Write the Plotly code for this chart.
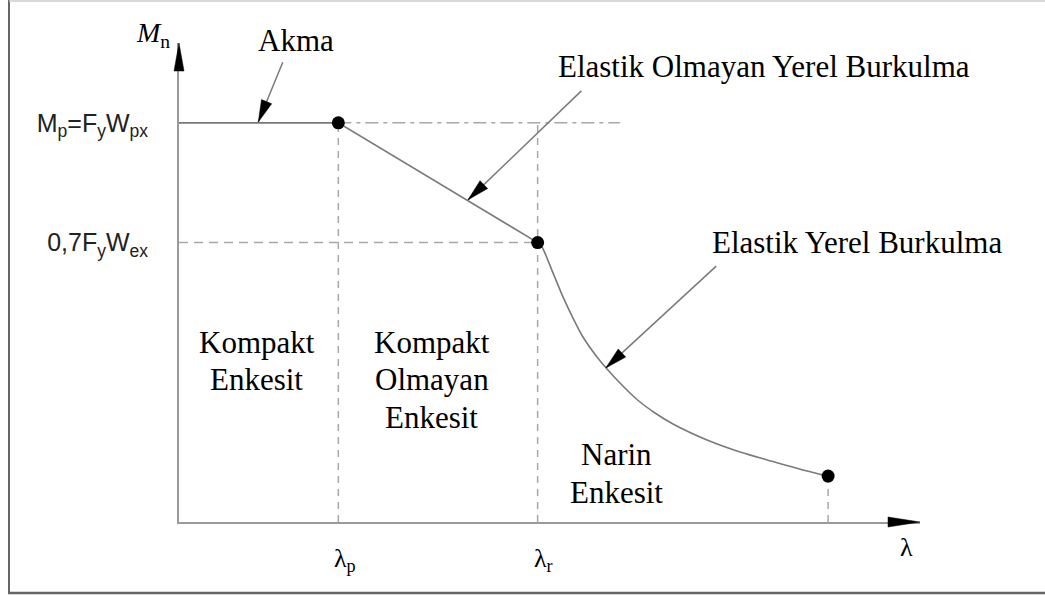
import plotly.graph_objects as go

# ---------------- data (normalised: Mn / Mp, lambda in arbitrary units) ----------------
lam_p = 21.5          # lambda_p
lam_r = 48.4          # lambda_r
lam_end = 87.6        # end of elastic curve
M_p = 1.0             # Mp = Fy Wpx
M_r = 0.70            # 0,7 Fy Wex
M_end = 0.115
dashdot_end = 59.5

plateau_x = [0, lam_p, lam_r]
plateau_y = [M_p, M_p, M_r]

curve_x = [48.4, 48.99, 50.47, 51.82, 53.17, 54.52, 56.41, 57.76, 59.51, 61.81, 64.24, 66.67,
           71.26, 75.71, 80.16, 84.75, 87.6]
curve_y = [0.70, 0.689, 0.624, 0.564, 0.511, 0.4635, 0.4134, 0.3833, 0.3482, 0.3069, 0.2731, 0.2455,
           0.2054, 0.1754, 0.1516, 0.1278, 0.115]

point_x = [lam_p, lam_r, lam_end]
point_y = [M_p, M_r, M_end]

ytick_vals = [M_p, M_r]
ytick_text = ["M<sub>p</sub>=F<sub>y</sub>W<sub>px</sub>", "0,7F<sub>y</sub>W<sub>ex</sub>"]

# callout labels: (text, text_x, text_y, tail_x, tail_y, tip_x, tip_y)
callouts = [
    ("Akma", 15.8, 1.207, 14.0, 1.152, 10.7, 1.002),
    ("Elastik Olmayan Yerel Burkulma", 79.0, 1.140, 54.3, 1.080, 39.0, 0.807),
    ("Elastik Yerel Burkulma", 91.5, 0.701, 72.5, 0.641, 57.6, 0.386),
]
# region labels: (line text, x, y)
region_lines = [
    ("Kompakt", 10.5, 0.449), ("Enkesit", 10.5, 0.356),
    ("Kompakt", 34.1, 0.449), ("Olmayan", 34.1, 0.356), ("Enkesit", 34.1, 0.263),
    ("Narin", 59.1, 0.168), ("Enkesit", 59.1, 0.075),
]

# ---------------- layout geometry ----------------
W, H = 1045, 596
ML, MR, MT, MB = 179, 125, 43, 74
XR = [0, 100]
YR = [0, 1.2]
PW, PH = W - ML - MR, H - MT - MB
kx = PW / (XR[1] - XR[0])   # px per x unit
ky = PH / (YR[1] - YR[0])   # px per y unit

SERIF = "Liberation Serif, Times New Roman, serif"
SANS = "Liberation Sans, Arial, sans-serif"
GRAY = "#7a7a7a"
DASH_GRAY = "#a8a8a8"


def px_(x):  # data x -> paper
    return (x - XR[0]) / (XR[1] - XR[0])


def py_(y):  # data y -> paper
    return (y - YR[0]) / (YR[1] - YR[0])


def head_path(tip, tail, length, half):
    """Filled triangular arrow head, built in pixel space, returned in paper space."""
    tx, ty = tip[0] * kx, tip[1] * ky
    sx, sy = tail[0] * kx, tail[1] * ky
    dx, dy = tx - sx, ty - sy
    n = (dx * dx + dy * dy) ** 0.5
    ux, uy = dx / n, dy / n
    bx, by = tx - ux * length, ty - uy * length
    nx, ny = -uy * half, ux * half
    pts = [(tx, ty), (bx + nx, by + ny), (bx - nx, by - ny)]
    pts = [(px_(a / kx), py_(b / ky)) for a, b in pts]
    return "M {} {} L {} {} L {} {} Z".format(*[v for p in pts for v in p])


fig = go.Figure()

# dashed reference lines
dash_v = dict(color=DASH_GRAY, width=1.5, dash="7px,6px")
fig.add_trace(go.Scatter(x=[lam_p, lam_p], y=[0, M_p], mode="lines", line=dash_v, hoverinfo="skip"))
fig.add_trace(go.Scatter(x=[lam_r, lam_r], y=[0, M_p], mode="lines", line=dash_v, hoverinfo="skip"))
fig.add_trace(go.Scatter(x=[lam_end, lam_end], y=[0, M_end], mode="lines", line=dash_v, hoverinfo="skip"))
fig.add_trace(go.Scatter(x=[0, lam_r], y=[M_r, M_r], mode="lines",
                         line=dict(color=DASH_GRAY, width=1.5, dash="9px,6px"), hoverinfo="skip"))
fig.add_trace(go.Scatter(x=[lam_p, dashdot_end], y=[M_p, M_p], mode="lines",
                         line=dict(color=DASH_GRAY, width=1.5, dash="13px,5px,4px,5px"), hoverinfo="skip"))

# capacity curve
fig.add_trace(go.Scatter(x=plateau_x, y=plateau_y, mode="lines",
                         line=dict(color=GRAY, width=1.6), hoverinfo="skip"))
fig.add_trace(go.Scatter(x=curve_x, y=curve_y, mode="lines",
                         line=dict(color=GRAY, width=1.6, shape="spline", smoothing=0.7), hoverinfo="skip"))
fig.add_trace(go.Scatter(x=point_x, y=point_y, mode="markers",
                         marker=dict(color="black", size=13), cliponaxis=False, hoverinfo="skip"))

shapes = []
annotations = []

# axis arrow heads
shapes.append(dict(type="path", xref="paper", yref="paper", layer="above",
                   path=head_path((XR[1], 0), (0, 0), 32, 5),
                   fillcolor="black", line=dict(color="black", width=0.5)))
shapes.append(dict(type="path", xref="paper", yref="paper", layer="above",
                   path=head_path((0, YR[1]), (0, 0), 28, 5),
                   fillcolor="black", line=dict(color="black", width=0.5)))

# callouts
for text, txx, tyy, ax_, ay_, bx_, by_ in callouts:
    annotations.append(dict(x=px_(txx), y=py_(tyy), xref="paper", yref="paper", text=text, showarrow=False,
                            font=dict(family=SERIF, size=31, color="black"),
                            xanchor="center", yanchor="middle"))
    shapes.append(dict(type="line", xref="paper", yref="paper",
                       x0=px_(ax_), y0=py_(ay_), x1=px_(bx_), y1=py_(by_),
                       line=dict(color=GRAY, width=1.5)))
    shapes.append(dict(type="path", xref="paper", yref="paper", layer="above",
                       path=head_path((bx_, by_), (ax_, ay_), 22, 5.5),
                       fillcolor="black", line=dict(color="black", width=0.5)))

for text, txx, tyy in region_lines:
    annotations.append(dict(x=px_(txx), y=py_(tyy), xref="paper", yref="paper", text=text, showarrow=False,
                            font=dict(family=SERIF, size=31, color="black"),
                            xanchor="center", yanchor="middle"))

# lambda labels
for lab, lx in (("λ<sub>p</sub>", lam_p), ("λ<sub>r</sub>", lam_r)):
    annotations.append(dict(x=px_(lx), y=py_(-0.095), xref="paper", yref="paper", text=lab, showarrow=False,
                            font=dict(family=SERIF, size=26, color="black"), xanchor="left", xshift=-6,
                            yanchor="middle"))
annotations.append(dict(x=px_(98.2), y=py_(-0.063), xref="paper", yref="paper", text="λ", showarrow=False,
                        font=dict(family=SERIF, size=26, color="black"), xanchor="center",
                        yanchor="middle"))
annotations.append(dict(x=px_(-3.5), y=py_(1.222), xref="paper", yref="paper", text="<i>M</i><sub>n</sub>",
                        showarrow=False, font=dict(family=SERIF, size=28, color="black"),
                        xanchor="center", yanchor="middle"))


# outer frame (pixel positions of the page border)
def pxp(px):
    return (px - ML) / PW


def pyp(py):
    return (H - MB - py) / PH


shapes.append(dict(type="line", xref="paper", yref="paper",
                   x0=pxp(9), x1=pxp(9), y0=pyp(593), y1=pyp(-2),
                   line=dict(color="#666666", width=2)))
shapes.append(dict(type="line", xref="paper", yref="paper",
                   x0=pxp(8), x1=pxp(1050), y0=pyp(593), y1=pyp(593),
                   line=dict(color="#666666", width=2.5)))
shapes.append(dict(type="line", xref="paper", yref="paper",
                   x0=pxp(9), x1=pxp(1050), y0=pyp(1), y1=pyp(1),
                   line=dict(color="#cccccc", width=1.5)))

fig.update_layout(
    width=W, height=H,
    margin=dict(l=ML, r=MR, t=MT, b=MB, pad=0),
    paper_bgcolor="white", plot_bgcolor="white",
    showlegend=False,
    shapes=shapes, annotations=annotations,
    xaxis=dict(range=XR, showgrid=False, zeroline=False, showline=True, linecolor="#9a9a9a",
               linewidth=2, showticklabels=False, ticks="", fixedrange=True),
    yaxis=dict(range=YR, showgrid=False, zeroline=False, showline=True, linecolor="#9a9a9a",
               linewidth=2, tickmode="array", tickvals=ytick_vals, ticktext=ytick_text,
               ticks="outside", ticklen=24, tickcolor="rgba(0,0,0,0)",
               tickfont=dict(family=SANS, size=25, color="#222222"), fixedrange=True),
)

fig.write_html("out.html", config={"displayModeBar": False},
               post_script="document.body.style.margin='0px';document.body.style.padding='0px';")
